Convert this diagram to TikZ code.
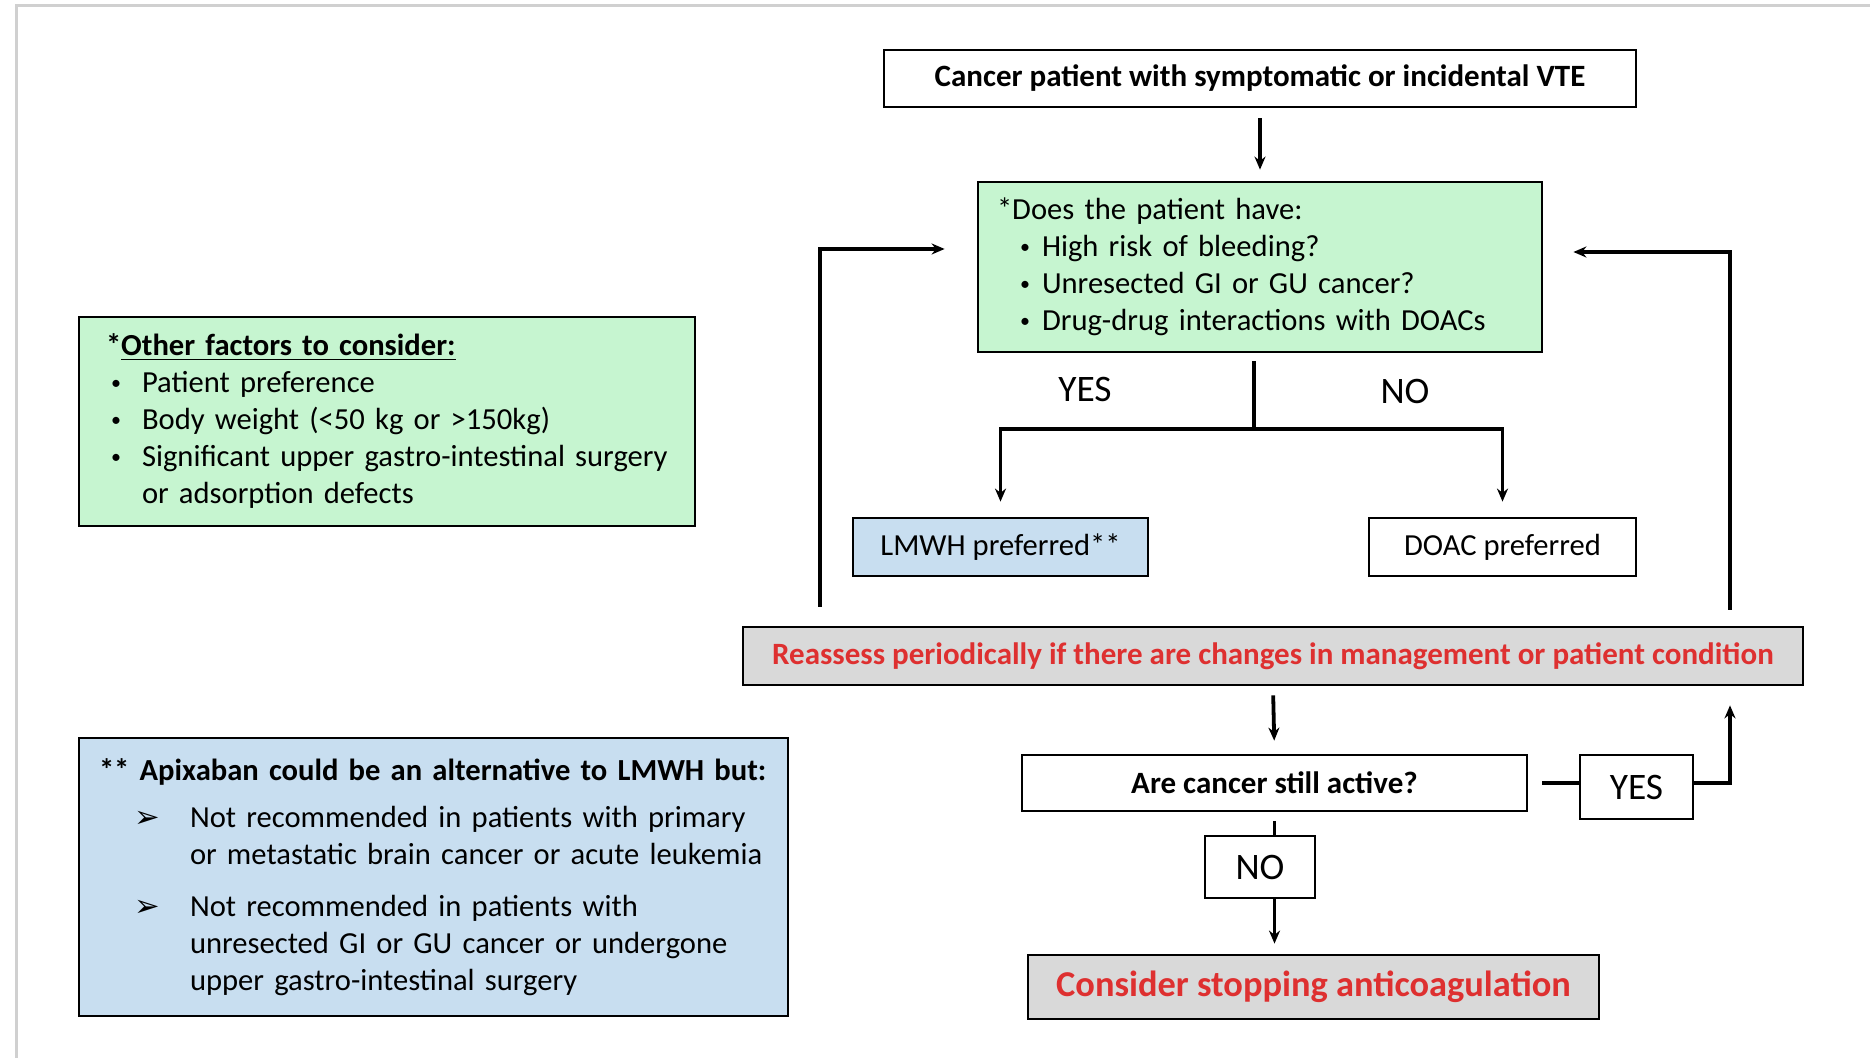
\documentclass[tikz,border=0pt]{standalone}
\usepackage{fontspec}
\setmainfont{Carlito}
\newfontfamily\arrowfont{DejaVu Sans}
\usepackage{tikz}
\usetikzlibrary{arrows.meta}

\definecolor{boxgreen}{RGB}{198,245,208}
\definecolor{boxblue}{RGB}{200,222,240}
\definecolor{boxgray}{RGB}{217,217,217}
\definecolor{alertred}{RGB}{222,48,48}
\definecolor{framegray}{RGB}{208,208,208}

% One list line: indent, text indent, bullet, text.
\newcommand{\pointline}[4]{\par\hangindent=#2\hangafter=1\noindent\hspace*{#1}\makebox[\dimexpr#2-#1\relax][l]{#3}#4\par}
\newcommand{\dotmark}{\raisebox{0.12em}{\fontsize{10}{10}\selectfont\textbullet}}

\begin{document}
\begin{tikzpicture}[%
        x = 0.5pt,
        y = -0.5pt,
        > = {Stealth[length = 6.5pt, width = 5.5pt]},
        flowbox/.style = {
            draw = black,
            line width = 1.4pt,
            inner sep = 0pt,
            font = \fontsize{15.5}{18}\selectfont\bfseries
        },
        bodytext/.style = {
            font = \fontsize{15.3}{18.5}\selectfont
        },
        answer/.style = {
            font = \fontsize{18.7}{21}\selectfont
        },
        link/.style = {
            draw = black,
            line width = 1.9pt
        }
    ]

        \useasboundingbox (0, 0) rectangle (1870, 1058);

        % Grey frame round the figure.
        \draw[framegray, line width = 1.5pt] (16, 1058) -- (16, 6) -- (1870, 6);

        % Main flow.
        \node[flowbox, minimum width = 376pt, minimum height = 28.5pt]
            at (1260, 78.5) (top) {Cancer patient with symptomatic or incidental VTE};

        \node[flowbox, bodytext, fill = boxgreen, minimum height = 85pt,
              text width = 263pt, inner xsep = 9.5pt, align = left]
            at (1260, 267) (quest) {%
            *Does the patient have:%
            \pointline{11.5pt}{22.5pt}{\dotmark}{High risk of bleeding?}%
            \pointline{11.5pt}{22.5pt}{\dotmark}{Unresected GI or GU cancer?}%
            \pointline{11.5pt}{22.5pt}{\dotmark}{Drug-drug interactions with DOACs}};

        \node[answer] at (1085, 389) (yes1) {YES};
        \node[answer] at (1405, 391) (no1) {NO};

        \node[flowbox, bodytext, fill = boxblue, minimum width = 147.5pt, minimum height = 29pt]
            at (1000.5, 547) (lmwh) {LMWH preferred**};
        \node[flowbox, bodytext, minimum width = 133.5pt, minimum height = 29pt]
            at (1502.5, 547) (doac) {DOAC preferred};

        \node[flowbox, fill = boxgray, text = alertred, minimum width = 530pt, minimum height = 29pt]
            at (1273, 656) (reassess) {Reassess periodically if there are changes in management or patient condition};

        \node[flowbox, minimum width = 252.5pt, minimum height = 28pt]
            at (1274.5, 783) (active) {Are cancer still active?};

        \node[flowbox, answer, minimum width = 56.5pt, minimum height = 32pt]
            at (1636.5, 787) (yes2) {YES};
        \node[flowbox, answer, minimum width = 55pt, minimum height = 31pt]
            at (1260, 867) (no2) {NO};

        \node[flowbox, fill = boxgray, text = alertred, font = \fontsize{18.2}{21}\selectfont\bfseries,
              minimum width = 285.5pt, minimum height = 32pt]
            at (1313.5, 987) (stop) {Consider stopping anticoagulation};

        % Side notes.
        \node[flowbox, bodytext, fill = boxgreen, minimum height = 104.5pt,
              text width = 281pt, inner xsep = 13.5pt, align = left]
            at (387, 421.5) (factors) {%
            \textbf{*\underline{Other factors to consider:}}%
            \pointline{2.5pt}{18pt}{\dotmark}{Patient preference}%
            \pointline{2.5pt}{18pt}{\dotmark}{Body weight (<50 kg or >150kg)}%
            \pointline{2.5pt}{18pt}{\dotmark}{Significant upper gastro-intestinal surgery\newline or adsorption defects}};

        \node[flowbox, bodytext, fill = boxblue, minimum height = 139pt,
              text width = 334.5pt, inner xsep = 10pt, align = left]
            at (433.5, 877) (apixaban) {%
            \textbf{** Apixaban could be an alternative to LMWH but:}\par
            \vspace{5pt}%
            \pointline{17.5pt}{45.5pt}{\arrowfont ➢}{Not recommended in patients with primary\newline or metastatic brain cancer or acute leukemia}%
            \vspace{7.5pt}%
            \pointline{17.5pt}{45.5pt}{\arrowfont ➢}{Not recommended in patients with\newline unresected GI or GU cancer or undergone\newline upper gastro-intestinal surgery}%
            \vspace{5pt}};

        % Points for the fork and the two loops.
        \coordinate (fork) at (1254, 429);
        \coordinate (loopL) at (820, 249);
        \coordinate (loopR) at (1730, 252);

        % Connectors.
        \draw[link, ->, shorten < = 5pt, shorten > = 5.5pt] (top) -- (quest);
        \draw[link, shorten < = 4pt] (quest.south -| fork) -- (fork);
        \draw[link, ->, shorten > = 7.5pt] (fork) -| (lmwh.north);
        \draw[link, ->, shorten > = 7.5pt] (fork) -| (doac.north);

        \draw[link, ->, shorten < = 9.5pt, shorten > = 16pt]
            (reassess.north -| loopL) |- (quest.west |- loopL);
        \draw[link, ->, shorten < = 8pt, shorten > = 15pt]
            (reassess.north -| loopR) |- (quest.east |- loopR);

        \draw[link, ->, shorten < = 4.5pt, shorten > = 6.5pt] (reassess.south) -- (active.north);
        \draw[link, shorten < = 7pt] (active.east) -- (yes2.west |- active.east);
        \draw[link, ->, shorten > = 9.5pt] (yes2.east |- active.east) -| (loopR |- reassess.south);
        \draw[link, shorten < = 4.5pt] (active.south) -- (active.south |- no2.north);
        \draw[link, ->, shorten > = 5pt] (active.south |- no2.south) -- (active.south |- stop.north);
    \end{tikzpicture}
\end{document}
